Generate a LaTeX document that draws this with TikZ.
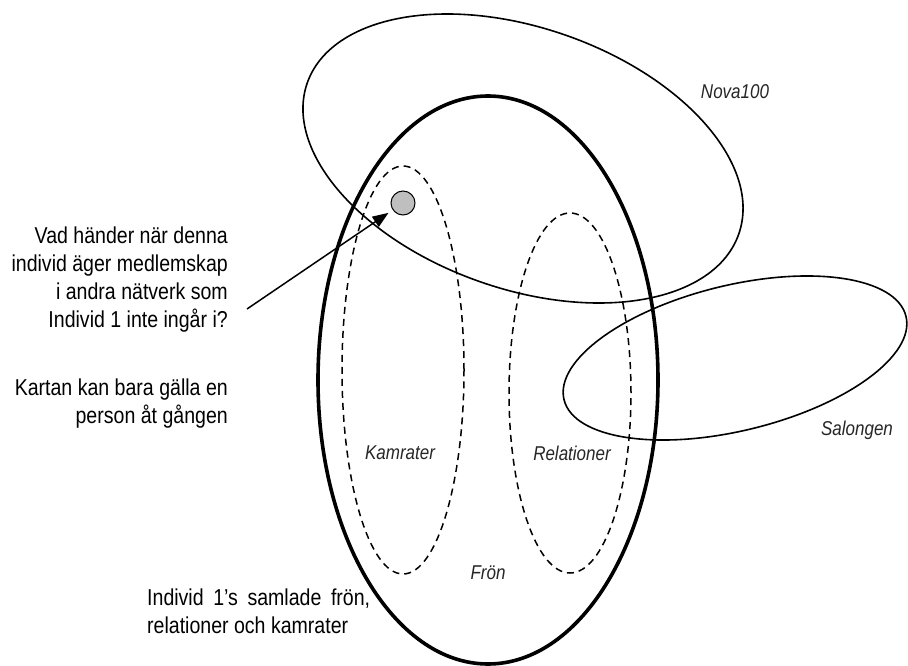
\documentclass[tikz,border=0pt]{standalone}
\usepackage{fontspec}
\setmainfont[FakeStretch=0.85]{Liberation Sans}
\usepackage{tikz}
\usetikzlibrary{arrows.meta}

\begin{document}
\begin{tikzpicture}[
    x=1pt, y=-1pt,
    >={Triangle[length=16pt, width=12pt]},
    natverk/.style={line width=1.6pt, black},
    delmangd/.style={line width=1.5pt, dash pattern=on 7pt off 5pt},
    etikett/.style={font=\fontsize{20}{24}\selectfont\itshape, text=black!85, inner sep=0pt},
    fritext/.style={font=\fontsize{23}{28}\selectfont, inner sep=0pt}
]

    \useasboundingbox (0,0) rectangle (908,666);

    % Nätverket Nova100
    \draw[
        natverk,
        rotate around={-19.3:(523,158.5)}
    ] (523,158.5) ellipse [x radius=228.6pt, y radius=130.5pt];

    % Individ 1
    \draw[
        line width=3.6pt,
        black
    ] (488,380) ellipse [x radius=170pt, y radius=284pt];

    % Kamrater och relationer
    \draw[delmangd] (403,370) ellipse [x radius=61pt, y radius=204pt];
    \draw[delmangd] (570,393) ellipse [x radius=61pt, y radius=180pt];

    % Salongen
    \draw[
        natverk,
        rotate around={13.7:(735,358)}
    ] (735,358) ellipse [x radius=176pt, y radius=72.7pt];

    % Individen
    \node[
        circle,
        draw,
        line width=1pt,
        fill=black!25,
        minimum size=24pt,
        inner sep=0pt
    ] (individ) at (403,203) {};

    % Texter
    \node[fritext, align=right, anchor=east] (fraga) at (228,280)
        {Vad händer när denna\\individ äger medlemskap\\i andra nätverk som\\Individ 1 inte ingår i?};
    \node[fritext, align=right, anchor=east] (karta) at (228,404)
        {Kartan kan bara gälla en\\person åt gången};
    \node[fritext, text width=223pt, align=justify, anchor=west] (samlade) at (147,611)
        {Individ 1's samlade frön,\linebreak relationer och kamrater};

    \node[etikett] (nova) at (735,92) {Nova100};
    \node[etikett] (salongen) at (857,430) {Salongen};
    \node[etikett] (kamrater) at (400,453) {Kamrater};
    \node[etikett] (relationer) at (572,453) {Relationer};
    \node[etikett] (fron) at (488,573) {Frön};

    % Pil mot individen
    \coordinate (pilstart) at (247,309);
    \draw[
        ->,
        line width=1.5pt,
        shorten >=5pt
    ] (pilstart) -- (individ);

\end{tikzpicture}
\end{document}
